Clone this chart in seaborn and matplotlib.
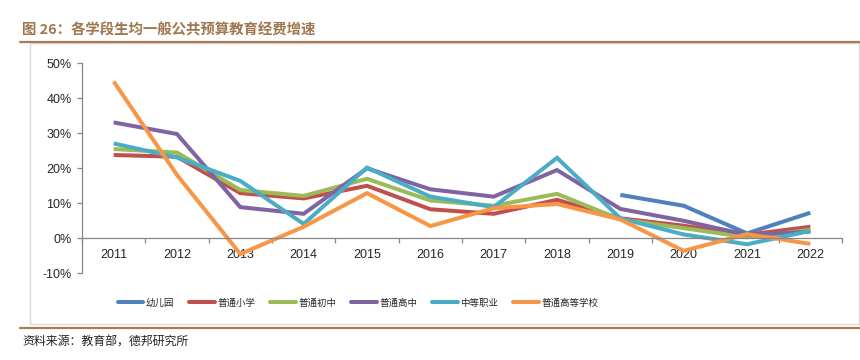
import numpy as np
import pandas as pd
import matplotlib
matplotlib.use("Agg")
import matplotlib.pyplot as plt
from matplotlib.patches import Rectangle
from matplotlib.lines import Line2D
from matplotlib.ticker import FixedLocator, FuncFormatter
import seaborn as sns

# ---- data ----
years = [2011, 2012, 2013, 2014, 2015, 2016, 2017, 2018, 2019, 2020, 2021, 2022]
series_names = ["幼儿园", "普通小学", "普通初中", "普通高中", "中等职业", "普通高等学校"]
kindergarten = [np.nan, np.nan, np.nan, np.nan, np.nan, np.nan, np.nan, np.nan, 12.4, 9.3, 1.4, 7.3]
primary      = [23.8, 23.3, 12.9, 11.4, 15.0, 8.3, 7.0, 11.0, 5.7, 3.6, 1.0, 3.3]
junior_high  = [25.5, 24.5, 13.8, 12.1, 17.0, 10.8, 9.3, 12.7, 5.4, 2.9, 0.3, 2.4]
senior_high  = [33.1, 29.8, 8.9, 7.0, 20.0, 14.0, 11.9, 19.5, 8.4, 5.0, 1.0, 1.9]
vocational   = [27.1, 23.1, 16.4, 4.1, 20.2, 11.9, 8.9, 23.0, 5.7, 1.1, -1.7, 2.1]
higher_edu   = [44.8, 18.1, -4.5, 3.3, 12.9, 3.5, 8.6, 9.8, 5.4, -3.6, 1.2, -1.6]
y_ticks = [-10, 0, 10, 20, 30, 40, 50]

title = "图 26：各学段生均一般公共预算教育经费增速"
source = "资料来源：教育部，德邦研究所"
colors = ["#4F81BD", "#C0504D", "#9BBB59", "#8064A2", "#4BACC6", "#F79646"]

# ---- long-form table ----
values = [kindergarten, primary, junior_high, senior_high, vocational, higher_edu]
frames = []
for name, vals in zip(series_names, values):
    frames.append(pd.DataFrame({"year": years, "value": vals, "series": name}))
df = pd.concat(frames, ignore_index=True).dropna()

sns.set_style("white")
plt.rcParams["font.family"] = ["Liberation Sans", "Noto Sans CJK SC", "DejaVu Sans"]

fig = plt.figure(figsize=(8.6, 3.6), dpi=100)
W, H = 860, 360
ax = fig.add_axes([82 / W, 1 - 273.3 / H, (842 - 82) / W, (273.3 - 63.3) / H])

sns.lineplot(data=df, x="year", y="value", hue="series", hue_order=series_names,
             palette=colors, linewidth=2.9, ax=ax, legend=False, sort=False,
             estimator=None)
for ln in ax.lines:
    ln.set_solid_capstyle("butt")
    ln.set_solid_joinstyle("miter")

ax.set_xlim(years[0] - 0.5, years[-1] + 0.5)
ax.set_ylim(y_ticks[0], y_ticks[-1])
ax.set_xlabel("")
ax.set_ylabel("")

axis_color = "#868686"
for s in ["top", "right"]:
    ax.spines[s].set_visible(False)
ax.spines["left"].set_color(axis_color)
ax.spines["left"].set_linewidth(0.9)
ax.spines["bottom"].set_position(("data", 0))
ax.spines["bottom"].set_color(axis_color)
ax.spines["bottom"].set_linewidth(0.9)

ax.set_yticks(y_ticks)
ax.yaxis.set_major_formatter(FuncFormatter(lambda v, p: f"{int(v)}%"))
ax.tick_params(axis="y", direction="out", length=3.6, width=0.9, color=axis_color,
               labelsize=9, pad=4, left=True)

ax.set_xticks(years)
ax.set_xticklabels([str(y) for y in years])
ax.xaxis.set_minor_locator(FixedLocator([y + 0.5 for y in [years[0] - 1] + years]))
ax.tick_params(axis="x", which="major", length=0, labelsize=9, pad=7.5)
ax.tick_params(axis="x", which="minor", direction="out", length=3.6, width=0.9,
               color=axis_color, bottom=True)
ax.grid(False)

# legend
handles = [Line2D([0], [0], color=c, lw=2.9) for c in colors]
fig.legend(handles, series_names, loc="center", bbox_to_anchor=(358 / W, 1 - 303 / H),
           ncol=6, frameon=False, prop={"family": ["Noto Sans CJK SC"], "size": 6.8},
           handlelength=2.7, handletextpad=0.26, columnspacing=1.6, borderpad=0)

# frame and decorations
fig.patches.append(Rectangle((30 / W, 1 - 324 / H), (859 - 30) / W, (324 - 43) / H,
                             transform=fig.transFigure, fill=False,
                             edgecolor="#D9D9D9", linewidth=1.0, zorder=0))
brown = "#A97B50"
fig.add_artist(Line2D([20 / W, 1.0], [1 - 42 / H, 1 - 42 / H], transform=fig.transFigure,
                      color=brown, linewidth=1.6))
fig.add_artist(Line2D([20 / W, 1.0], [1 - 328 / H, 1 - 328 / H], transform=fig.transFigure,
                      color=brown, linewidth=1.6))

fig.text(22 / W, 1 - 30 / H, title, ha="left", va="center", fontsize=10.4,
         fontweight="bold", color="#A0764F", family=["Noto Sans CJK SC", "DejaVu Sans"])
fig.text(22 / W, 1 - 342 / H, source, ha="left", va="center", fontsize=8.6,
         color="#222222", family=["Noto Sans CJK SC", "DejaVu Sans"])

fig.savefig("out.png", dpi=100)
